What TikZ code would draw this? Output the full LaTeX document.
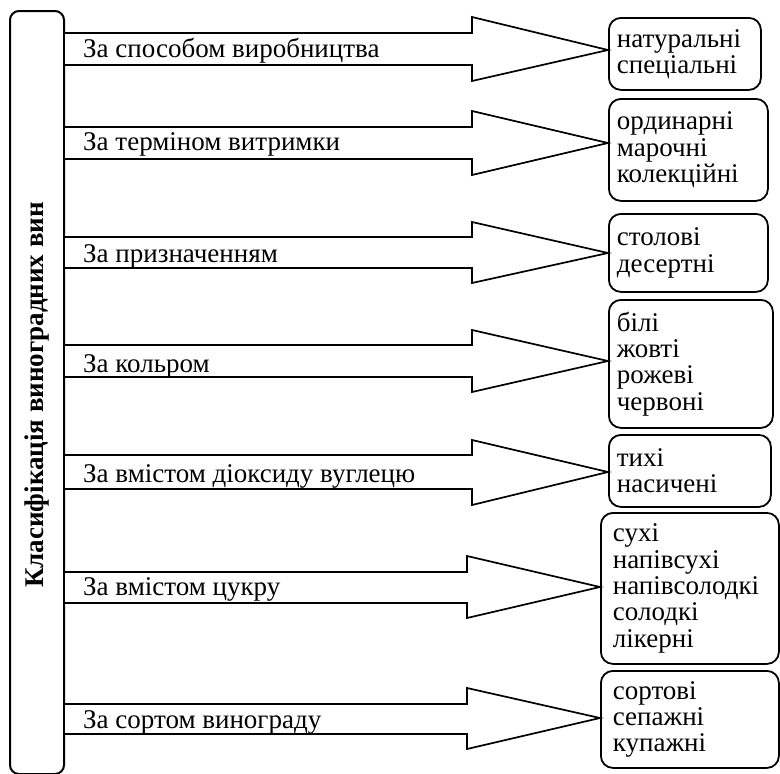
\documentclass[tikz,border=0pt]{standalone}
\usepackage{fontspec}
\setmainfont{Liberation Serif}
\begin{document}
\begin{tikzpicture}[x=1pt,y=-1pt,
  lbox/.style={draw, line width=2pt, rounded corners=9pt, inner sep=0pt, anchor=north west},
  rbox/.style={draw, line width=1.8pt, rounded corners=12pt, anchor=north west, align=left,
               inner ysep=0pt, font=\fontsize{27}{26.3}\selectfont},
  lab/.style={anchor=base west, inner sep=0pt, font=\fontsize{27}{26.3}\selectfont},
  ttl/.style={rotate=90, inner sep=0pt, font=\bfseries\fontsize{27}{30}\selectfont},
  barrow/.style={draw, line width=1.7pt, fill=white, line join=miter}]
\useasboundingbox (0,0) rectangle (780,774);

% left box with title
\node[lbox, minimum width=54pt, minimum height=763pt] (lb) at (9,10) {};
\node[ttl] (title) at ([yshift=-2.5pt]lb.center) {Класифікація виноградних вин};

% right boxes
\node[rbox, inner xsep=8pt, text width=136pt, minimum height=72pt] (b1) at (608,17) {натуральні\\спеціальні};
\node[rbox, inner xsep=8pt, text width=143pt, minimum height=102pt] (b2) at (608,98) {ординарні\\марочні\\колекційні};
\node[rbox, inner xsep=8pt, text width=143pt, minimum height=78pt] (b3) at (608,213) {столові\\десертні};
\node[rbox, inner xsep=8pt, text width=148pt, minimum height=128pt] (b4) at (608,299) {білі\\жовті\\рожеві\\червоні};
\node[rbox, inner xsep=8pt, text width=146pt, minimum height=72pt] (b5) at (608,434) {тихі\\насичені};
\node[rbox, inner xsep=12pt, text width=154pt, minimum height=151pt] (b6) at (600,512) {сухі\\напівсухі\\напівсолодкі\\солодкі\\лікерні};
\node[rbox, inner xsep=12pt, text width=154pt, minimum height=97pt] (b7) at (600,670) {сортові\\сепажні\\купажні};

% block arrows
\draw[barrow] (lb.east |- 0,33) -- (472,33) -- (472,17) -- (b1.west |- 0,50) -- (472,81) -- (472,65) -- (lb.east |- 0,65);
\draw[barrow] (lb.east |- 0,127) -- (472,127) -- (472,111) -- (b2.west |- 0,143) -- (472,175) -- (472,159) -- (lb.east |- 0,159);
\draw[barrow] (lb.east |- 0,237) -- (472,237) -- (472,222) -- (b3.west |- 0,253) -- (472,283) -- (472,268) -- (lb.east |- 0,268);
\draw[barrow] (lb.east |- 0,345) -- (472,345) -- (472,330) -- (b4.west |- 0,361) -- (472,392) -- (472,377) -- (lb.east |- 0,377);
\draw[barrow] (lb.east |- 0,455) -- (472,455) -- (472,440) -- (b5.west |- 0,472) -- (472,505) -- (472,489) -- (lb.east |- 0,489);
\draw[barrow] (lb.east |- 0,572) -- (467,572) -- (467,556) -- (b6.west |- 0,587) -- (467,618) -- (467,603) -- (lb.east |- 0,603);
\draw[barrow] (lb.east |- 0,704) -- (467,704) -- (467,688) -- (b7.west |- 0,718) -- (467,749) -- (467,734) -- (lb.east |- 0,734);

% labels
\node[lab] (l1) at (83,57) {За способом виробництва};
\node[lab] (l2) at (83,150) {За терміном витримки};
\node[lab] (l3) at (83,262) {За призначенням};
\node[lab] (l4) at (83,372) {За кольром};
\node[lab] (l5) at (83,482) {За вмістом діоксиду вуглецю};
\node[lab] (l6) at (83,595) {За вмістом цукру};
\node[lab] (l7) at (83,728) {За сортом винограду};
\end{tikzpicture}
\end{document}
